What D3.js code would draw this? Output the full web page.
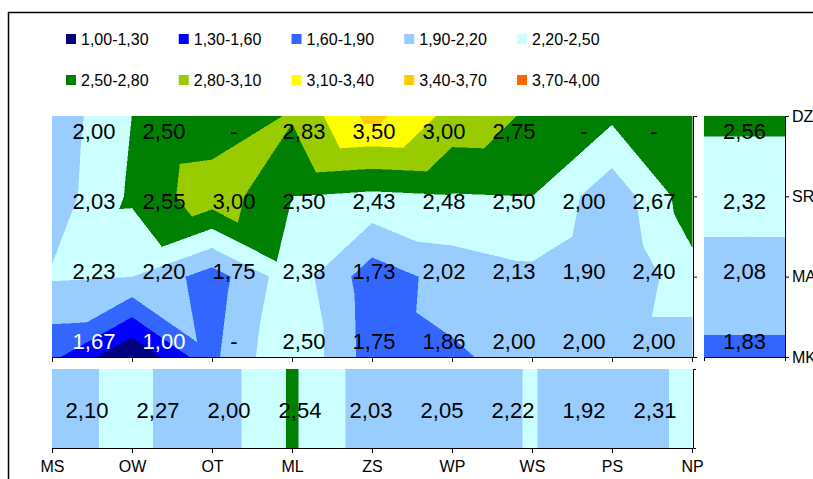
<html>
<head>
<meta charset="UTF-8">
<style>
  body { margin: 0; background: #fff; }
  svg { display: block; font-family: "Liberation Sans", Arial, sans-serif; }
  .axis path, .axis line { stroke: #000; }
  .axis text { font-size: 16px; fill: #000; font-family: "Liberation Sans", Arial, sans-serif; }
</style>
</head>
<body>
<svg id="chart" width="813" height="479"></svg>
<script src="https://d3js.org/d3.v7.min.js"></script>
<script>
// data
const cols = ["MS", "OW", "OT", "ML", "ZS", "WP", "WS", "PS", "NP"];
const rows = ["DZ", "SR", "MA", "MK"];
// null = "-" in the table
const grid = [
  [2.00, 2.50, null, 2.83, 3.50, 3.00, 2.75, null, null],
  [2.03, 2.55, 3.00, 2.50, 2.43, 2.48, 2.50, 2.00, 2.67],
  [2.23, 2.20, 1.75, 2.38, 1.73, 2.02, 2.13, 1.90, 2.40],
  [1.67, 1.00, null, 2.50, 1.75, 1.86, 2.00, 2.00, 2.00]
];
const rowMeans = [2.56, 2.32, 2.08, 1.83];
const colMeans = [2.10, 2.27, 2.00, 2.54, 2.03, 2.05, 2.22, 1.92, 2.31];
const bandEdges = [1.0, 1.3, 1.6, 1.9, 2.2, 2.5, 2.8, 3.1, 3.4, 3.7, 4.0];
const bandColors = ["#000080", "#0000FF", "#3366FF", "#99CCFF", "#CCFFFF",
                    "#008000", "#99CC00", "#FFFF00", "#FFCC00", "#FF6600"];
const legendLabels = ["1,00-1,30", "1,30-1,60", "1,60-1,90", "1,90-2,20", "2,20-2,50",
                      "2,50-2,80", "2,80-3,10", "3,10-3,40", "3,40-3,70", "3,70-4,00"];

const svg = d3.select("#chart");
const fmt = v => v == null ? "-" : v.toFixed(2).replace(".", ",");

// gaps in the surface take the row average
const surface = grid.map((r, j) => r.map(v => v == null ? rowMeans[j] : v));

// clip a polygon (points carry x, y, v) to v >= t (dir 1) or v <= t (dir -1)
function clip(poly, t, dir) {
  const out = [];
  for (let k = 0; k < poly.length; k++) {
    const a = poly[k], b = poly[(k + 1) % poly.length];
    const ina = dir * (a.v - t) >= 0, inb = dir * (b.v - t) >= 0;
    if (ina) out.push(a);
    if (ina !== inb) {
      const f = (t - a.v) / (b.v - a.v);
      out.push({x: a.x + f * (b.x - a.x), y: a.y + f * (b.y - a.y), v: t});
    }
  }
  return out;
}

// excel style contour: each cell split on the diagonal with the larger sum
function surfacePolys(vals) {
  const polys = [];
  for (let j = 0; j < vals.length - 1; j++) {
    for (let i = 0; i < vals[0].length - 1; i++) {
      const tl = {x: i, y: j, v: vals[j][i]}, tr = {x: i + 1, y: j, v: vals[j][i + 1]},
            bl = {x: i, y: j + 1, v: vals[j + 1][i]}, br = {x: i + 1, y: j + 1, v: vals[j + 1][i + 1]};
      const tris = (tl.v + br.v >= bl.v + tr.v)
        ? [[tl, tr, br], [tl, br, bl]]
        : [[tl, tr, bl], [tr, br, bl]];
      tris.forEach(tri => {
        bandColors.forEach((c, b) => {
          let p = clip(tri, bandEdges[b], 1);
          if (p.length) p = clip(p, bandEdges[b + 1], -1);
          if (p.length > 2) polys.push({color: c, pts: p});
        });
      });
    }
  }
  return polys;
}

function drawSurface(vals, x, y) {
  const g = svg.append("g").attr("shape-rendering", "crispEdges");
  g.selectAll("path")
    .data(surfacePolys(vals))
    .enter()
    .append("path")
    .attr("d", d => "M" + d.pts.map(p => x(p.x) + "," + y(p.y)).join("L") + "Z")
    .attr("fill", d => d.color)
    .attr("stroke", d => d.color)
    .attr("stroke-width", 0.5);
  return g;
}

// chart frame
svg.append("rect")
  .attr("x", 8.5).attr("y", 12.5)
  .attr("width", 900).attr("height", 600)
  .attr("fill", "none").attr("stroke", "#000").attr("stroke-width", 1.5);

// legend
const legX = d3.scaleLinear().domain([0, 4]).range([66, 517]);
const legY = d3.scaleLinear().domain([0, 1]).range([39, 80]);
const leg = svg.append("g").selectAll("g")
  .data(legendLabels)
  .enter()
  .append("g")
  .attr("transform", (d, i) => `translate(${legX(i % 5)},${legY(Math.floor(i / 5))})`);
leg.append("rect")
  .attr("x", 0).attr("y", -5).attr("width", 10).attr("height", 10)
  .attr("fill", (d, i) => bandColors[i]);
leg.append("text")
  .attr("x", 15).attr("y", 6)
  .attr("font-size", "16px")
  .text(d => d);

// main contour
const xIdx = d3.scaleLinear().domain([0, cols.length - 1]).range([52, 692]);
const yIdx = d3.scaleLinear().domain([0, rows.length - 1]).range([116, 357]);
drawSurface(surface, xIdx, yIdx);

const xPt = d3.scalePoint().domain(cols).range([52, 692]);
const yPt = d3.scalePoint().domain(rows).range([116, 357]);

svg.append("g").attr("class", "axis")
  .attr("transform", "translate(0,357)")
  .call(d3.axisBottom(xPt).tickSize(5).tickFormat(""));
svg.append("g").attr("class", "axis")
  .attr("transform", "translate(693,0)")
  .call(d3.axisRight(yPt).tickSize(4).tickFormat(""));

// table labels over the contour
const labX = d3.scalePoint().domain(cols).range([94, 654]);
const labY = d3.scalePoint().domain(rows).range([139, 349]);
const cells = [];
grid.forEach((r, j) => r.forEach((v, i) => cells.push({row: rows[j], col: cols[i], v: v})));
svg.append("g").selectAll("text")
  .data(cells)
  .enter()
  .append("text")
  .attr("x", d => labX(d.col))
  .attr("y", d => labY(d.row))
  .attr("text-anchor", "middle")
  .attr("font-size", "22px")
  .attr("fill", d => d.v != null && d.v < 1.7 ? "#fff" : "#000")
  .text(d => fmt(d.v));

// row averages bar on the right
const xSide = d3.scaleLinear().domain([0, 1]).range([704, 785]);
drawSurface(rowMeans.map(v => [v, v]), xSide, yIdx);
svg.append("g").attr("class", "axis")
  .attr("transform", "translate(785,0)")
  .call(d3.axisRight(yPt).tickSize(4).tickPadding(3));
svg.append("g").attr("class", "axis")
  .attr("transform", "translate(0,357)")
  .call(d3.axisBottom(xSide).ticks(0).tickSizeOuter(4));
svg.append("g").selectAll("text")
  .data(rowMeans)
  .enter()
  .append("text")
  .attr("x", xSide(0.5))
  .attr("y", (d, j) => labY(rows[j]))
  .attr("text-anchor", "middle")
  .attr("font-size", "22px")
  .text(d => fmt(d));

// column averages strip at the bottom
const yStrip = d3.scaleLinear().domain([0, 1]).range([369, 448]);
drawSurface([colMeans, colMeans], xIdx, yStrip);
svg.append("g").attr("class", "axis")
  .attr("transform", "translate(0,448)")
  .call(d3.axisBottom(xPt).tickSize(5).tickPadding(8));
svg.append("g").attr("class", "axis")
  .attr("transform", "translate(693,0)")
  .call(d3.axisRight(yStrip).ticks(0).tickSizeOuter(3));
const stripX = d3.scalePoint().domain(cols).range([87, 655]);
svg.append("g").selectAll("text")
  .data(colMeans)
  .enter()
  .append("text")
  .attr("x", (d, i) => stripX(cols[i]))
  .attr("y", 418)
  .attr("text-anchor", "middle")
  .attr("font-size", "22px")
  .text(d => fmt(d));
</script>
</body>
</html>
